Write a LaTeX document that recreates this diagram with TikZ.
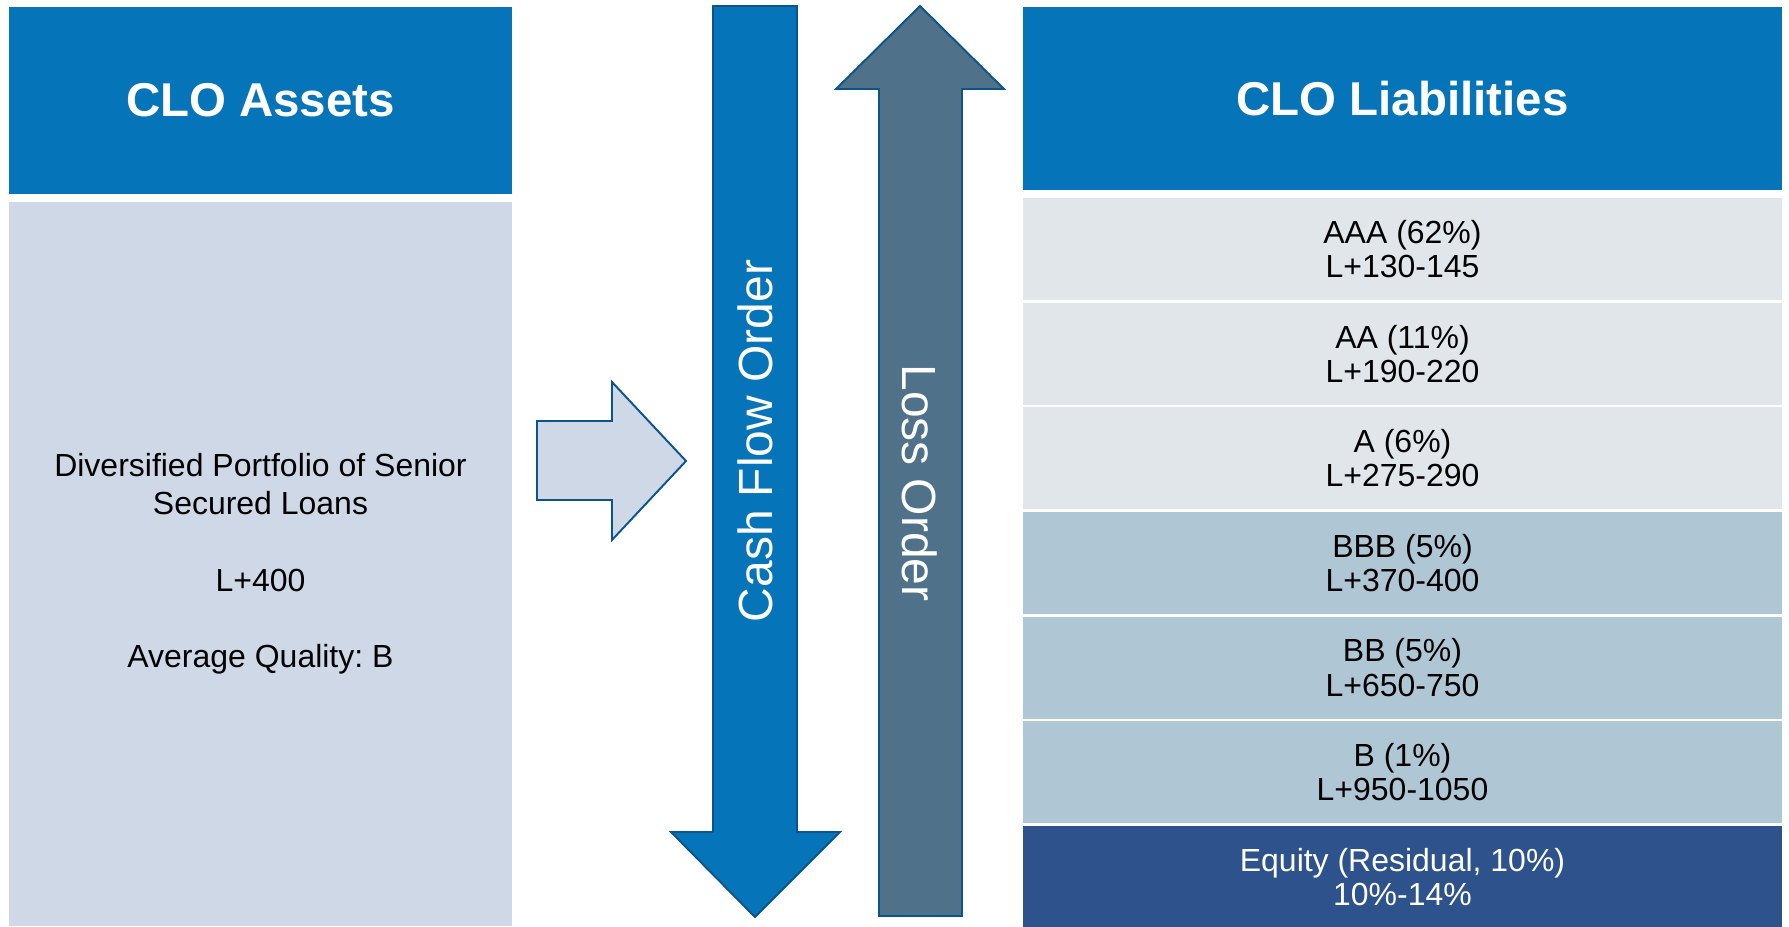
\documentclass[tikz,border=0pt]{standalone}
\usepackage{fontspec}
\setmainfont{Liberation Sans}
\usetikzlibrary{positioning}
\frenchspacing

\definecolor{cloblue}{HTML}{0674B8}
\definecolor{assetfill}{HTML}{CED8E7}
\definecolor{seniorfill}{HTML}{E1E6EB}
\definecolor{mezzfill}{HTML}{AFC6D4}
\definecolor{equityfill}{HTML}{2D528C}
\definecolor{lossfill}{HTML}{4F728A}
\definecolor{arrowedge}{HTML}{0B558A}

\begin{document}
\begin{tikzpicture}
    \tikzstyle{head} = [rectangle, fill=cloblue, text=white, inner sep=0pt,
        outer sep=0pt, font=\fontsize{27}{32}\selectfont\bfseries]
    \tikzstyle{rec} = [rectangle, align=center, inner sep=0pt, outer sep=0pt,
        minimum width=15.18cm, minimum height=2.04cm,
        font=\fontsize{18.2}{19.4}\selectfont]
    \tikzstyle{block} = [draw=arrowedge, line width=1.1pt, line join=miter]
    \tikzstyle{vtext} = [text=white, font=\fontsize{27.3}{32}\selectfont]

    \useasboundingbox (0,0) rectangle (35.78,-18.52);

    % assets side
    \node(assets) [head, minimum width=10.06cm, minimum height=3.74cm]
        at (0.18,-0.14) [anchor=north west] {CLO Assets};
    \node(pool) [rectangle, fill=assetfill, inner sep=0pt, outer sep=0pt,
        minimum width=10.06cm, minimum height=14.48cm, align=center,
        font=\fontsize{18.2}{21.6}\selectfont]
        at (0.18,-4.04) [anchor=north west]
        {Diversified Portfolio of Senior\\ Secured Loans\\[22pt]
        L+400\\[22pt] Average Quality: B};

    % liabilities side
    \node(liab) [head, minimum width=15.18cm, minimum height=3.66cm]
        at (20.46,-0.14) [anchor=north west] {CLO Liabilities};
    \node(aaa) [rec, fill=seniorfill] at (20.46,-3.96) [anchor=north west]
        {AAA (62\%)\\ L+130-145};
    \node(aa) [rec, fill=seniorfill, below=1.5pt of aaa]
        {AA (11\%)\\ L+190-220};
    \node(a) [rec, fill=seniorfill, below=1.5pt of aa]
        {A (6\%)\\ L+275-290};
    \node(bbb) [rec, fill=mezzfill, below=1.5pt of a]
        {BBB (5\%)\\ L+370-400};
    \node(bb) [rec, fill=mezzfill, below=1.5pt of bbb]
        {BB (5\%)\\ L+650-750};
    \node(b) [rec, fill=mezzfill, below=1.5pt of bb]
        {B (1\%)\\ L+950-1050};
    \node(equity) [rec, fill=equityfill, text=white, below=1.5pt of b]
        {Equity (Residual, 10\%)\\ 10\%-14\%};

    % block arrows
    \draw[block, fill=assetfill] (10.74,-8.42) -- (12.24,-8.42)
        -- (12.24,-7.64) -- (13.72,-9.22) -- (12.24,-10.80)
        -- (12.24,-10.00) -- (10.74,-10.00) -- cycle;
    \draw[block, fill=cloblue] (14.26,-0.12) -- (15.94,-0.12)
        -- (15.94,-16.64) -- (16.80,-16.64) -- (15.10,-18.34)
        -- (13.42,-16.64) -- (14.26,-16.64) -- cycle;
    \draw[block, fill=lossfill] (18.40,-0.12) -- (20.08,-1.78)
        -- (19.24,-1.78) -- (19.24,-18.32) -- (17.58,-18.32)
        -- (17.58,-1.78) -- (16.72,-1.78) -- cycle;

    \node(cashflow) [vtext, rotate=90] at (15.10,-8.82) {Cash Flow Order};
    \node(lossorder) [vtext, rotate=-90] at (18.40,-9.66) {Loss Order};
\end{tikzpicture}
\end{document}
